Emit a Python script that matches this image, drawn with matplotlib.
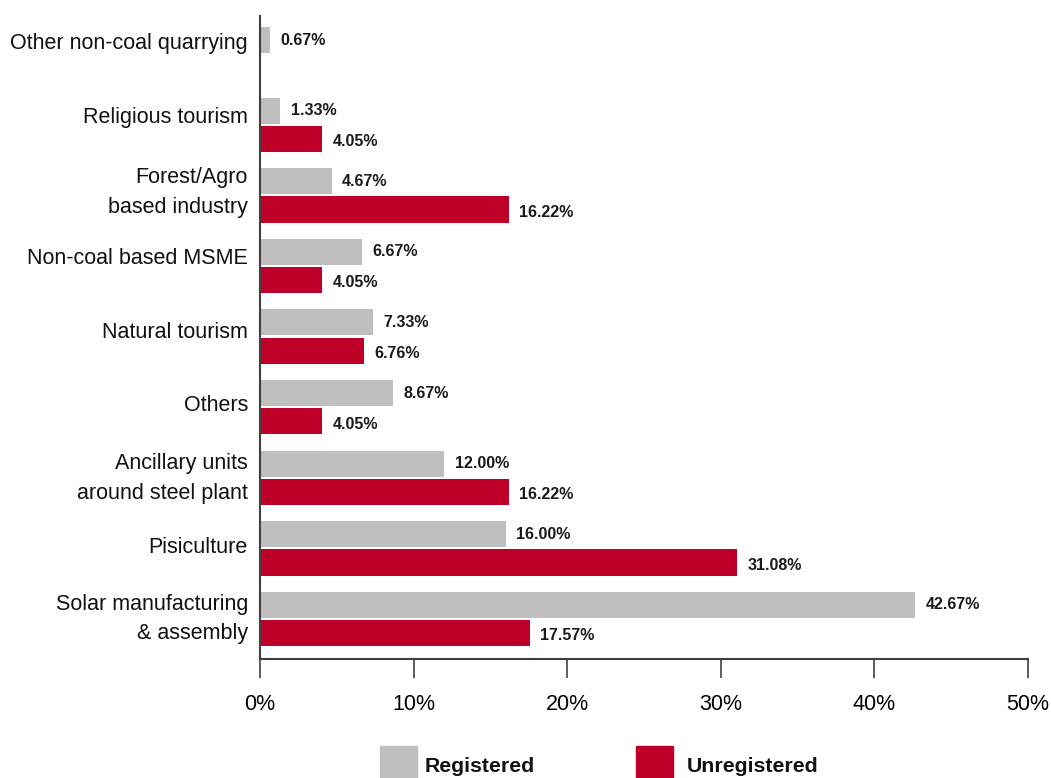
import matplotlib
matplotlib.use("Agg")
import matplotlib.pyplot as plt
from matplotlib.patches import Rectangle
from matplotlib.ticker import FuncFormatter
from matplotlib.transforms import blended_transform_factory, ScaledTranslation
import numpy as np

# Sectors (top to bottom as displayed)
categories = [
    "Other non-coal quarrying",
    "Religious tourism",
    "Forest/Agro\nbased industry",
    "Non-coal based MSME",
    "Natural tourism",
    "Others",
    "Ancillary units\naround steel plant",
    "Pisiculture",
    "Solar manufacturing\n& assembly",
]
registered = [0.67, 1.33, 4.67, 6.67, 7.33, 8.67, 12.00, 16.00, 42.67]
unregistered = [None, 4.05, 16.22, 4.05, 6.76, 4.05, 16.22, 31.08, 17.57]
x_ticks = [0, 10, 20, 30, 40, 50]

# vertical nudge (pixels) of each sector label relative to its bar pair
label_nudge = [10.5, 7, 3, 7, 4, 2, -1, 0.5, 0]

GRAY = "#BFBFBF"
RED = "#BE0028"
AXIS = "#404040"

plt.rcParams["font.family"] = ["Liberation Sans", "DejaVu Sans"]

W, H = 1051, 778
fig = plt.figure(figsize=(W / 100, H / 100), dpi=100)
ax = fig.add_axes([260 / W, (H - 659) / H, (1027.5 - 260) / W, (659 - 16) / H])

n = len(categories)
ypos = np.arange(n)[::-1].astype(float)
bar_h = 0.37
off = 0.2

for y, r, u in zip(ypos, registered, unregistered):
    ax.barh(y + off, r, height=bar_h, color=GRAY, zorder=2)
    ax.annotate(f"{r:.2f}%", (r, y + off), xytext=(7.5, 0), textcoords="offset points",
                va="center", ha="left", fontsize=11.5, fontweight="bold", color="#1a1a1a")
    if u is not None:
        ax.barh(y - off, u, height=bar_h, color=RED, zorder=2)
        ax.annotate(f"{u:.2f}%", (u, y - off), xytext=(7.5, -2), textcoords="offset points",
                    va="center", ha="left", fontsize=11.5, fontweight="bold", color="#1a1a1a")

ax.set_xlim(0, 50)
ax.set_ylim(-0.567, n - 1 + 0.54)
ax.set_xticks(x_ticks)
ax.xaxis.set_major_formatter(FuncFormatter(lambda v, p: f"{v:.0f}%"))
ax.set_yticks([])
ax.tick_params(axis="x", length=14, width=1.2, color=AXIS, pad=11.5, labelsize=15.5)

# sector labels to the left of the axis
ytrans = blended_transform_factory(ax.transAxes, ax.transData)
for y, name, dy in zip(ypos, categories, label_nudge):
    tr = ytrans + ScaledTranslation(-12 / 100, dy / 100, fig.dpi_scale_trans)
    ax.text(0, y, name, transform=tr, ha="right", va="center", fontsize=15.5,
            linespacing=1.55, multialignment="right", color="#111111")

for s in ["top", "right"]:
    ax.spines[s].set_visible(False)
for s in ["left", "bottom"]:
    ax.spines[s].set_color(AXIS)
    ax.spines[s].set_linewidth(1.5)

# Legend drawn at the figure foot
def fig_box(x0, y0, w, h, color):
    fig.patches.append(Rectangle((x0 / W, (H - y0 - h) / H), w / W, h / H,
                                 transform=fig.transFigure, color=color, zorder=3))

fig_box(380, 746, 37, 40, GRAY)
fig_box(636, 746, 37, 40, RED)
fig.text(425 / W, (H - 767) / H, "Registered", fontsize=15.3, fontweight="bold",
         va="center", ha="left", color="#111111")
fig.text(687 / W, (H - 767) / H, "Unregistered", fontsize=15.3, fontweight="bold",
         va="center", ha="left", color="#111111")

fig.savefig("out.png", dpi=100)
